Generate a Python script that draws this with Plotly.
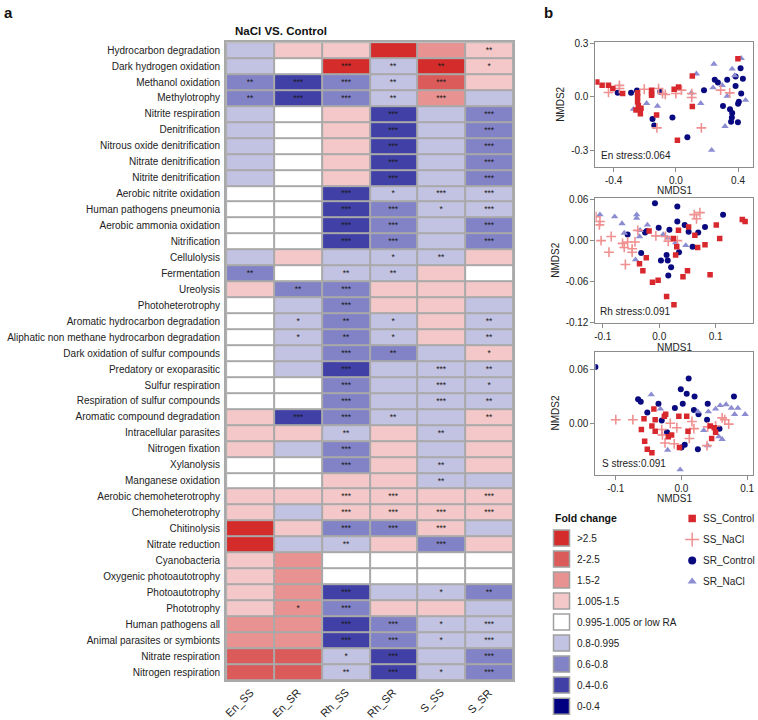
import plotly.graph_objects as go

W, H = 758, 720
FONT = "Liberation Sans, Arial, sans-serif"

# ---------------- data ----------------
functions = [
    "Hydrocarbon degradation", "Dark hydrogen oxidation", "Methanol oxidation", "Methylotrophy",
    "Nitrite respiration", "Denitrification", "Nitrous oxide denitrification", "Nitrate denitrification",
    "Nitrite denitrification", "Aerobic nitrite oxidation", "Human pathogens pneumonia",
    "Aerobic ammonia oxidation", "Nitrification", "Cellulolysis", "Fermentation", "Ureolysis",
    "Photoheterotrophy", "Aromatic hydrocarbon degradation", "Aliphatic non methane hydrocarbon degradation",
    "Dark oxidation of sulfur compounds", "Predatory or exoparasitic", "Sulfur respiration",
    "Respiration of sulfur compounds", "Aromatic compound degradation", "Intracellular parasites",
    "Nitrogen fixation", "Xylanolysis", "Manganese oxidation", "Aerobic chemoheterotrophy",
    "Chemoheterotrophy", "Chitinolysis", "Nitrate reduction", "Cyanobacteria",
    "Oxygenic photoautotrophy", "Photoautotrophy", "Phototrophy", "Human pathogens all",
    "Animal parasites or symbionts", "Nitrate respiration", "Nitrogen respiration",
]
samples = ["En_SS", "En_SR", "Rh_SS", "Rh_SR", "S_SS", "S_SR"]
fold_classes = [">2.5", "2-2.5", "1.5-2", "1.005-1.5", "0.995-1.005 or low RA",
                "0.8-0.995", "0.6-0.8", "0.4-0.6", "0-0.4"]
fold_colors = ["#D42B2B", "#DB5B5B", "#E89292", "#F4C8C8", "#FFFFFF",
               "#C2C2E2", "#8282C6", "#4040A6", "#000080"]

# fold-change class (index into fold_classes) per function, one list per sample
en_ss_class = [5,5,6,6,5,5,5,5,5,4,4,4,4,5,6,3,4,4,4,4,4,4,4,3,3,3,4,4,3,3,0,0,3,3,3,3,2,2,1,1]
en_sr_class = [3,4,7,7,4,4,4,4,4,4,4,4,4,3,4,6,5,5,5,5,5,4,4,7,3,5,4,4,3,5,3,5,2,2,2,2,2,2,1,1]
rh_ss_class = [3,0,6,6,3,3,3,3,3,7,7,7,7,5,5,6,6,6,6,6,7,6,6,6,5,6,6,3,3,3,6,5,4,4,7,6,7,7,5,5]
rh_sr_class = [0,5,5,5,7,7,7,7,7,5,6,6,6,5,5,3,3,5,5,6,5,5,5,5,3,3,3,3,3,3,6,3,4,4,5,3,6,6,7,7]
s_ss_class  = [2,0,1,2,5,5,5,5,5,5,5,5,5,5,3,3,3,3,3,5,5,5,5,5,5,5,5,5,3,3,3,6,4,4,5,3,5,5,5,5]
s_sr_class  = [3,3,3,5,6,6,6,6,6,5,5,6,6,3,4,3,5,5,5,3,5,5,5,3,3,3,3,5,3,3,5,3,4,4,6,5,5,5,6,6]

# significance stars (row number 1..40 -> stars)
en_ss_sig = {3:"**", 4:"**", 15:"**"}
en_sr_sig = {3:"***", 4:"***", 16:"**", 18:"*", 19:"*", 24:"***", 36:"*"}
rh_ss_sig = {2:"***", 3:"***", 4:"***", 10:"***", 11:"***", 12:"***", 13:"***", 15:"**", 16:"***",
             17:"***", 18:"**", 19:"**", 20:"***", 21:"***", 22:"***", 23:"***", 24:"***", 25:"**",
             26:"***", 27:"***", 29:"***", 30:"***", 31:"***", 32:"**", 35:"***", 36:"***",
             37:"***", 38:"***", 39:"*", 40:"**"}
rh_sr_sig = {2:"**", 3:"**", 4:"**", 5:"***", 6:"***", 7:"***", 8:"***", 9:"***", 10:"*", 11:"***",
             12:"***", 13:"***", 14:"*", 15:"**", 18:"*", 19:"*", 20:"**", 24:"**", 29:"***",
             30:"***", 31:"***", 37:"***", 38:"***", 39:"***", 40:"***"}
s_ss_sig = {2:"**", 3:"***", 4:"***", 10:"***", 11:"*", 14:"**", 21:"***", 22:"***", 23:"***",
            25:"**", 27:"**", 28:"**", 30:"***", 31:"***", 32:"***", 35:"*", 37:"*", 38:"*", 40:"*"}
s_sr_sig = {1:"**", 2:"*", 5:"***", 6:"***", 7:"***", 8:"***", 9:"***", 10:"***", 11:"***",
            12:"***", 13:"***", 18:"**", 19:"**", 20:"*", 21:"**", 22:"*", 23:"**", 24:"**",
            29:"***", 30:"***", 35:"**", 37:"***", 38:"***", 39:"***", 40:"***"}

# NMDS ordinations
group_names = ["SS_Control", "SS_NaCl", "SR_Control", "SR_NaCl"]

en_ss_ctrl_x = [-0.508,-0.474,-0.433,-0.405,-0.342,-0.246,-0.246,-0.246,-0.241,-0.256,-0.224,-0.228,
                -0.156,-0.156,-0.156,-0.124,-0.011,0.017,0.106,0.106,0.010,0.399]
en_ss_ctrl_y = [0.083,0.064,0.064,0.046,0.018,0.022,0.0,-0.028,-0.05,-0.074,-0.065,-0.096,
                0.037,0.018,0.009,-0.102,0.042,0.055,0.116,-0.055,-0.245,0.213]
en_ss_nacl_x = [-0.433,-0.363,-0.363,-0.203,-0.111,-0.086,-0.068,0.0,0.036,0.102,0.102,0.164,0.288,0.346,-0.122]
en_ss_nacl_y = [0.024,0.064,0.046,0.042,0.046,0.018,0.013,0.018,0.037,-0.004,0.018,-0.175,0.037,0.022,-0.175]
en_sr_ctrl_x = [-0.374,-0.288,-0.25,-0.1,-0.15,-0.139,-0.022,0.074,0.181,0.25,0.27,0.33,0.416,0.384,
                0.431,0.384,0.42,0.405,0.40,0.303,0.348,0.362,0.36,0.355,0.399]
en_sr_ctrl_y = [0.022,0.022,0.035,0.028,-0.125,-0.162,-0.116,-0.227,0.037,0.096,0.08,0.096,0.160,0.114,
                0.101,0.061,0.018,-0.028,-0.04,-0.052,-0.070,-0.092,-0.116,-0.14,-0.144]
en_sr_nacl_x = [-0.273,-0.188,-0.118,0.1,0.132,0.16,0.245,0.239,0.298,0.33,0.362,0.378,0.42,0.448,0.316,0.23]
en_sr_nacl_y = [-0.07,-0.037,-0.052,0.022,0.129,-0.037,0.184,0.051,0.064,0.003,0.156,0.119,0.216,-0.019,-0.166,-0.3]

rh_ss_ctrl_x = [-0.018,0.025,0.034,0.052,0.063,0.068,0.081,0.101,0.107,0.147,0.152,0.031,0.029,-0.023,
                -0.035,-0.029,-0.012,-0.002,0.042,0.05,0.09,0.013,0.026]
rh_ss_ctrl_y = [0.014,0.003,0.015,0.020,0.008,-0.010,-0.006,0.023,0.003,0.031,0.028,-0.009,-0.021,-0.025,
                -0.034,-0.044,-0.061,-0.058,-0.053,-0.044,-0.050,-0.082,-0.094]
rh_ss_nacl_x = [-0.112,-0.105,-0.106,-0.103,-0.085,-0.089,-0.065,-0.062,-0.056,-0.048,-0.048,-0.043,
                -0.06,-0.038,-0.006,0.011,0.016,0.062,0.066,0.072,0.032]
rh_ss_nacl_y = [0.035,0.028,0.023,0.0,0.006,-0.017,-0.004,-0.010,-0.002,-0.012,-0.017,-0.002,
                -0.035,0.015,0.007,0.006,-0.001,0.038,0.032,0.041,0.0]
rh_sr_ctrl_x = [-0.0076,0.032,0.032,0.113,-0.056,-0.025,-0.001,0.018,0.045,0.052,0.069,0.081,0.059,
                -0.032,0.003,0.013,0.015,0.021,0.016,0.035,-0.022]
rh_sr_ctrl_y = [0.0547,0.050,0.028,0.038,0.009,0.012,0.019,0.016,0.023,0.013,0.012,0.020,-0.009,
                -0.018,-0.029,-0.021,-0.029,-0.039,-0.051,-0.017,0.014]
rh_sr_nacl_x = [-0.105,-0.079,-0.066,-0.040,-0.040,-0.034,-0.021,-0.062,-0.035,0.015,0.007,0.029,0.047,-0.042]
rh_sr_nacl_y = [0.038,0.035,0.025,0.038,0.033,0.015,0.023,0.011,0.006,0.004,0.009,-0.003,-0.007,-0.028]

s_ss_ctrl_x = [-0.042,-0.024,-0.026,-0.057,-0.040,-0.004,0.008,-0.045,-0.061,-0.040,-0.020,-0.015,0.010,
               -0.056,-0.052,-0.045,-0.003,0.044,0.050,0.052,0.046]
s_ss_ctrl_y = [0.016,0.010,0.008,0.005,0.004,0.008,0.008,-0.003,-0.007,-0.009,-0.015,-0.013,-0.009,
               -0.020,-0.029,-0.033,-0.027,-0.003,-0.005,-0.010,-0.017]
s_ss_nacl_x = [-0.100,-0.074,-0.030,-0.029,-0.017,-0.007,0.016,0.019,-0.025,-0.011,0.012,0.040,0.062,
               0.072,0.066,0.052,0.039]
s_ss_nacl_y = [0.004,0.004,-0.007,-0.013,0.0,-0.005,0.002,-0.006,-0.022,-0.023,-0.017,-0.004,0.006,
               -0.001,0.004,-0.003,-0.025]
s_sr_ctrl_x = [-0.131,0.011,-0.001,0.008,0.020,-0.066,-0.062,-0.035,-0.052,-0.010,0.002,0.019,0.026,
               0.040,0.039,0.058,0.080,-0.030,-0.022,0.005,0.0,0.025]
s_sr_ctrl_y = [0.063,0.050,0.038,0.033,0.030,0.027,0.024,0.022,0.012,0.017,0.022,0.015,0.010,
               0.022,0.004,-0.006,0.030,0.003,-0.010,-0.024,-0.027,-0.029]
s_sr_nacl_x = [-0.046,-0.032,0.025,0.052,0.059,0.068,0.076,0.086,0.097,0.081,0.041,0.034,0.057,0.062,
               0.040,-0.021,-0.002]
s_sr_nacl_y = [0.032,0.016,0.013,0.016,0.020,0.021,0.017,0.017,0.010,0.010,0.013,-0.008,-0.015,-0.018,
               -0.025,-0.030,-0.052]

stress_labels = ["En stress:0.064", "Rh stress:0.091", "S stress:0.091"]

# ---------------- helpers ----------------
def px(xp):
    return xp / W

def py(yp):
    return 1 - yp / H

class_cols = [en_ss_class, en_sr_class, rh_ss_class, rh_sr_class, s_ss_class, s_sr_class]
sig_cols = [en_ss_sig, en_sr_sig, rh_ss_sig, rh_sr_sig, s_ss_sig, s_sr_sig]
z = [[class_cols[c][r] for c in range(6)] for r in range(len(functions))]
txt = [[sig_cols[c].get(r + 1, "") for c in range(6)] for r in range(len(functions))]

n = len(fold_classes)
colorscale = []
for i, col in enumerate(fold_colors):
    colorscale.append([i / n, col])
    colorscale.append([(i + 1) / n, col])

GRID = "#A9A9A9"
TXT = "#222222"
fig = go.Figure()

fig.add_trace(go.Heatmap(
    z=z, x=samples, y=functions, text=txt, texttemplate="%{text}",
    textfont=dict(size=8.5, color="#1a1a1a", family=FONT),
    colorscale=colorscale, zmin=-0.5, zmax=n - 0.5, showscale=False,
    xgap=2, ygap=2, hoverinfo="skip", xaxis="x", yaxis="y",
))

# ---------------- NMDS panels ----------------
grp_style = {
    "SS_Control": dict(symbol="square", size=5.5, color="#D8282E"),
    "SS_NaCl": dict(symbol="cross-thin", size=7, color="#F09090", line=dict(width=1.6, color="#F09090")),
    "SR_Control": dict(symbol="circle", size=6, color="#0A0A80"),
    "SR_NaCl": dict(symbol="triangle-up", size=6.5, color="#8C8CD2"),
}
panels = [
    [(en_ss_ctrl_x, en_ss_ctrl_y), (en_ss_nacl_x, en_ss_nacl_y), (en_sr_ctrl_x, en_sr_ctrl_y), (en_sr_nacl_x, en_sr_nacl_y)],
    [(rh_ss_ctrl_x, rh_ss_ctrl_y), (rh_ss_nacl_x, rh_ss_nacl_y), (rh_sr_ctrl_x, rh_sr_ctrl_y), (rh_sr_nacl_x, rh_sr_nacl_y)],
    [(s_ss_ctrl_x, s_ss_ctrl_y), (s_ss_nacl_x, s_ss_nacl_y), (s_sr_ctrl_x, s_sr_ctrl_y), (s_sr_nacl_x, s_sr_nacl_y)],
]
draw_order = [2, 3, 1, 0]
for p, groups in enumerate(panels):
    ax = str(p + 2)
    for g in draw_order:
        gx, gy = groups[g]
        fig.add_trace(go.Scatter(
            x=gx, y=gy, mode="markers", marker=grp_style[group_names[g]],
            showlegend=False, hoverinfo="skip", xaxis="x" + ax, yaxis="y" + ax,
        ))

# ---------------- legends (own invisible axis in pixel units) ----------------
sw_y = [540.6 + 21.3 * k for k in range(n)]
fig.add_trace(go.Scatter(
    x=[562] * n, y=sw_y, mode="markers",
    marker=dict(symbol="square", size=16, color=fold_colors, line=dict(color="#A0A0A0", width=1.5)),
    showlegend=False, hoverinfo="skip", xaxis="x5", yaxis="y5", cliponaxis=False,
))
sym_y = [520.7, 542.0, 563.3, 584.6]
for g, name in enumerate(group_names):
    st = dict(grp_style[name])
    st["size"] = {"SS_Control": 7.5, "SS_NaCl": 10, "SR_Control": 8, "SR_NaCl": 8}[name]
    if name == "SS_NaCl":
        st["line"] = dict(width=1.5, color="#F09090")
    fig.add_trace(go.Scatter(
        x=[693], y=[sym_y[g]], mode="markers", marker=st,
        showlegend=False, hoverinfo="skip", xaxis="x5", yaxis="y5", cliponaxis=False,
    ))

# ---------------- layout ----------------
heat_x = [px(225.7), px(513.5)]
heat_y = [py(684.5), py(37.7)]
nm_x = [px(596), px(754)]
nm_y = [[py(164.5), py(38)], [py(322.7), py(196)], [py(476.7), py(351.7)]]
nm_xr = [[-0.517, 0.496], [-0.113, 0.166], [-0.131, 0.109]]
nm_yr = [[-0.396, 0.305], [-0.121, 0.062], [-0.058, 0.080]]
nm_xt = [[-0.4, 0.0, 0.4], [-0.1, 0.0, 0.1], [-0.1, 0.0, 0.1]]
nm_xtt = [["-0.4", "0.0", "0.4"], ["-0.1", "0.0", "0.1"], ["-0.1", "0.0", "0.1"]]
nm_yt = [[-0.3, 0.0, 0.3], [-0.12, -0.06, 0.0, 0.06], [-0.06, 0.0, 0.06]]
nm_ytt = [["-0.3", "0.0", "0.3"], ["-0.12", "-0.06", "0.00", "0.06"], ["-0.06", "0.00", "0.06"]]

layout = dict(
    width=W, height=H, margin=dict(l=0, r=0, t=0, b=0),
    paper_bgcolor="white", plot_bgcolor="white",
    font=dict(family=FONT, size=10, color=TXT),
    showlegend=False,
    xaxis=dict(domain=heat_x, anchor="y", range=[-0.5, len(samples) - 0.5], ticks="",
               showgrid=False, zeroline=False, showticklabels=False,
               showline=True, linecolor=GRID, linewidth=2, mirror=True, fixedrange=True),
    yaxis=dict(domain=heat_y, anchor="x", range=[len(functions) - 0.5, -0.5], ticks="", showgrid=False,
               zeroline=False, showline=True, linecolor=GRID, linewidth=2, mirror=True,
               tickfont=dict(size=10, color=TXT), ticklabelstandoff=2, fixedrange=True),
    xaxis5=dict(domain=[px(540), 1], anchor="y5", range=[540, 758], visible=False, fixedrange=True),
    yaxis5=dict(domain=[0, py(505)], anchor="x5", range=[720, 505], visible=False, fixedrange=True),
)
for p in range(3):
    k = str(p + 2)
    common = dict(showgrid=False, zeroline=False, showline=True, linecolor="#8C8C8C", linewidth=1,
                  mirror=True, ticks="outside", ticklen=4, tickcolor="#8C8C8C",
                  tickfont=dict(size=10, color=TXT), fixedrange=True)
    layout["xaxis" + k] = dict(domain=nm_x, anchor="y" + k, range=nm_xr[p], tickvals=nm_xt[p],
                              ticktext=nm_xtt[p], **common)
    layout["yaxis" + k] = dict(domain=nm_y[p], anchor="x" + k, range=nm_yr[p], tickvals=nm_yt[p],
                              ticktext=nm_ytt[p], **common)
fig.update_layout(**layout)

# background grey behind heatmap (gaps become grid lines)
fig.add_shape(type="rect", xref="x domain", yref="y domain", x0=0, x1=1, y0=0, y1=1,
              fillcolor=GRID, line=dict(width=0), layer="below")

ann = [
    dict(text="<b>a</b>", x=px(1), y=py(8), xanchor="left", yanchor="middle", font=dict(size=15, color="#111")),
    dict(text="<b>b</b>", x=px(542), y=py(8), xanchor="left", yanchor="middle", font=dict(size=15, color="#111")),
    dict(text="<b>NaCl VS. Control</b>", x=px(281), y=py(26), xanchor="center", yanchor="middle",
         font=dict(size=11.5, color="#111")),
    dict(text="<b>Fold change</b>", x=px(553), y=py(520.7), xanchor="left", yanchor="middle",
         font=dict(size=10.5, color="#111")),
]
for lbl, yy in zip(fold_classes, sw_y):
    ann.append(dict(text=lbl, x=px(575.5), y=py(yy), xanchor="left", yanchor="middle",
                    font=dict(size=10, color=TXT)))
for lbl, yy in zip(group_names, sym_y):
    ann.append(dict(text=lbl, x=px(701.5), y=py(yy), xanchor="left", yanchor="middle",
                    font=dict(size=10, color=TXT)))
stress_pos = [(599.5, 153), (598.5, 310.7), (600.5, 465)]
for lbl, (sx, sy) in zip(stress_labels, stress_pos):
    ann.append(dict(text=lbl, x=px(sx), y=py(sy), xanchor="left", yanchor="middle",
                    font=dict(size=10, color=TXT)))
# NMDS axis titles
for yc_title in [188, 347.5, 500.5]:
    ann.append(dict(text="NMDS1", x=px(675), y=py(yc_title), xanchor="center", yanchor="middle",
                    font=dict(size=10, color=TXT)))
for (top, bot), xc in zip([(38, 164.5), (196, 322.7), (351.7, 476.7)], [561.5, 556.5, 555.5]):
    ann.append(dict(text="NMDS2", x=px(xc), y=py((top + bot) / 2), xanchor="center", yanchor="middle",
                    textangle=-90, font=dict(size=10, color=TXT)))
for a in ann:
    a.update(xref="paper", yref="paper", showarrow=False)
# rotated sample labels under the heatmap
for s in samples:
    ann.append(dict(text=s, x=s, xref="x", y=py(688), yref="paper", xanchor="right", yanchor="top",
                    xshift=8, textangle=-45, showarrow=False, font=dict(size=11, color=TXT)))
fig.update_layout(annotations=ann)

fig.write_html(
    "out.html",
    config={"displayModeBar": False, "staticPlot": True},
    post_script="document.body.style.margin='0';document.body.style.padding='0';"
                "document.body.style.overflow='hidden';",
)
